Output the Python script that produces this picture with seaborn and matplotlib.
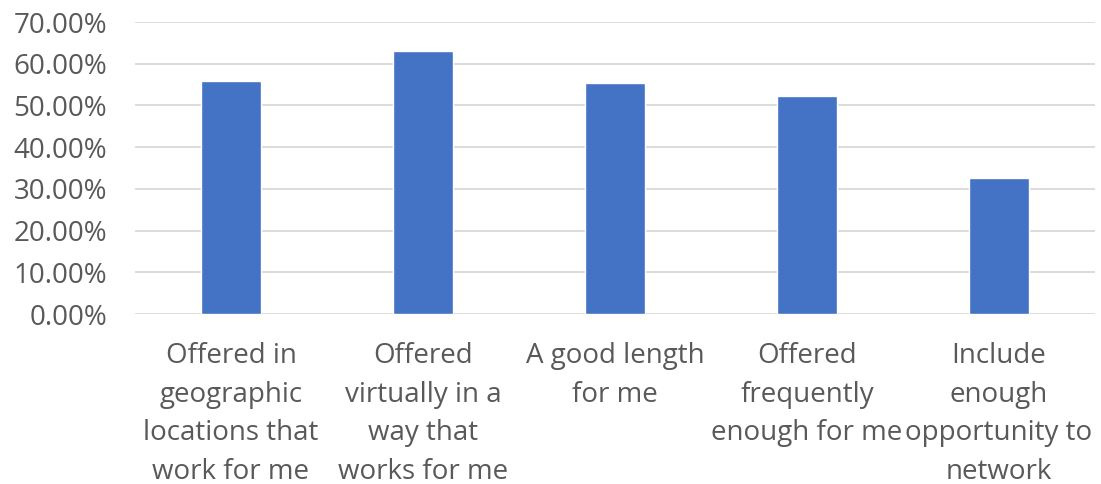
import matplotlib
matplotlib.use("Agg")
import matplotlib.pyplot as plt
import matplotlib.ticker as mticker
import seaborn as sns
import pandas as pd

categories = [
    "Offered in geographic locations that work for me",
    "Offered virtually in a way that works for me",
    "A good length for me",
    "Offered frequently enough for me",
    "Include enough opportunity to network",
]
tick_labels = [
    "Offered in\ngeographic\nlocations that\nwork for me",
    "Offered\nvirtually in a\nway that\nworks for me",
    "A good length\nfor me",
    "Offered\nfrequently\nenough for me",
    "Include\nenough\nopportunity to\nnetwork",
]
values = [0.558, 0.630, 0.554, 0.523, 0.326]

df = pd.DataFrame({"category": categories, "value": values})

sns.set_theme(style="white")
plt.rcParams["font.family"] = ["Open Sans", "DejaVu Sans"]

text_color = "#595959"
fig = plt.figure(figsize=(11.01, 4.84), dpi=100)
ax = fig.add_axes([0.1226, 0.351, 0.872, 0.6035])

sns.barplot(data=df, x="category", y="value", color="#4472C4",
            width=0.31, saturation=1, ax=ax, zorder=3)

ax.set_ylim(0, 0.70)
ax.set_xlim(-0.5, len(categories) - 0.5)
ax.yaxis.set_major_locator(mticker.MultipleLocator(0.10))
ax.yaxis.set_major_formatter(mticker.FuncFormatter(lambda v, _: f"{v * 100:.2f}%"))
ax.grid(axis="y", color="#d9d9d9", linewidth=1.3, zorder=0)
ax.grid(axis="x", visible=False)
for s in ax.spines.values():
    s.set_visible(False)

ax.set_xticks(range(len(categories)))
ax.set_xticklabels(tick_labels, linespacing=1.51)
ax.tick_params(axis="both", length=0, labelsize=20, colors=text_color)
ax.tick_params(axis="y", pad=20)
ax.tick_params(axis="x", pad=20)
ax.set_xlabel("")
ax.set_ylabel("")

fig.savefig("out.png", dpi=100)
